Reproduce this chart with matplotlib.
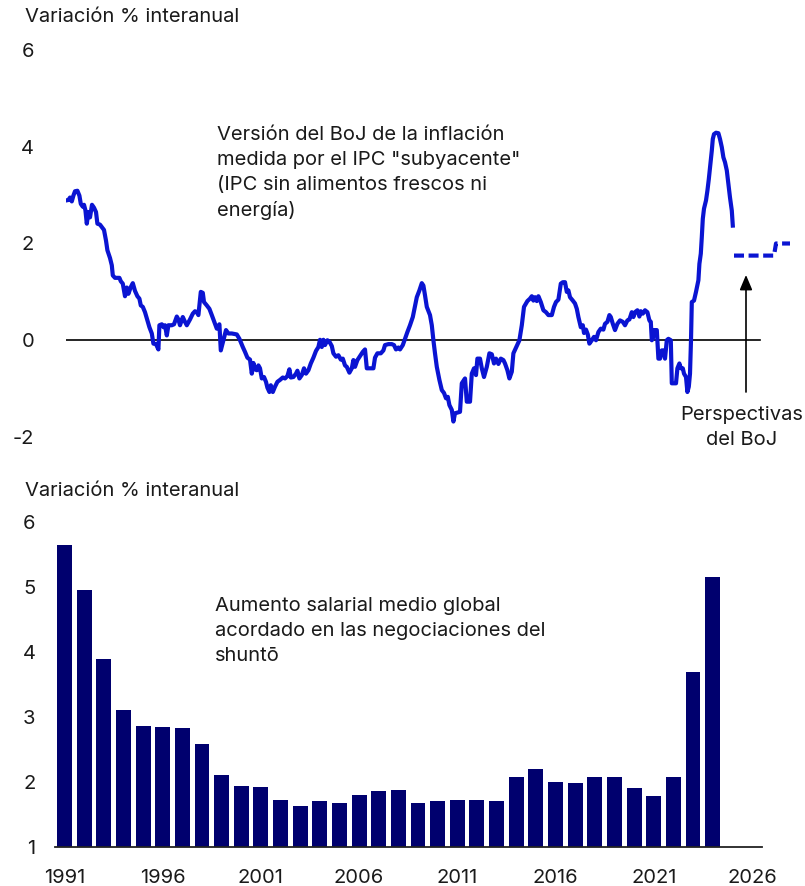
import matplotlib
matplotlib.use("Agg")
import matplotlib.pyplot as plt

plt.rcParams['font.family'] = ['Inter', 'DejaVu Sans']

# ---------------- data ----------------
# BoJ core CPI (ex fresh food & energy), % y/y
cpi_t = [1991.00, 1991.12, 1991.20, 1991.29, 1991.37, 1991.45, 1991.57, 1991.67, 1991.74, 1991.84,
         1991.90, 1991.97, 1992.04, 1992.12, 1992.20, 1992.30, 1992.40, 1992.50, 1992.57, 1992.70,
         1992.79, 1992.90, 1993.00, 1993.07, 1993.20, 1993.29, 1993.34, 1993.45, 1993.67, 1993.74,
         1993.84, 1993.95, 1994.04, 1994.12, 1994.24, 1994.34, 1994.45, 1994.57, 1994.67, 1994.74,
         1994.84, 1994.95, 1995.04, 1995.17, 1995.29, 1995.37, 1995.50, 1995.62, 1995.67, 1995.79,
         1995.87, 1995.95, 1996.04, 1996.12, 1996.29, 1996.40, 1996.54, 1996.62, 1996.70, 1996.84,
         1996.95, 1997.04, 1997.20, 1997.34, 1997.45, 1997.54, 1997.62, 1997.74, 1997.84, 1997.90,
         1998.04, 1998.17, 1998.29, 1998.45, 1998.54, 1998.67, 1998.74, 1998.87, 1999.00, 1999.12,
         1999.29, 1999.54, 1999.67, 1999.84, 1999.95, 2000.07, 2000.20, 2000.29, 2000.37, 2000.45,
         2000.54, 2000.62, 2000.70, 2000.79, 2000.90, 2001.00, 2001.07, 2001.17, 2001.24, 2001.34,
         2001.45, 2001.57, 2001.70, 2001.84, 2001.95, 2002.07, 2002.17, 2002.24, 2002.37, 2002.50,
         2002.57, 2002.67, 2002.79, 2002.90, 2003.00, 2003.12, 2003.24, 2003.37, 2003.50, 2003.62,
         2003.70, 2003.79, 2003.87, 2003.95, 2004.07, 2004.17, 2004.29, 2004.37, 2004.50, 2004.62,
         2004.74, 2004.84, 2004.95, 2005.04, 2005.17, 2005.29, 2005.37, 2005.45, 2005.57, 2005.70,
         2005.84, 2005.95, 2006.04, 2006.37, 2006.45, 2006.57, 2006.74, 2006.87, 2006.95, 2007.12,
         2007.29, 2007.40, 2007.50, 2007.62, 2007.70, 2007.84, 2007.95, 2008.07, 2008.20, 2008.34,
         2008.45, 2008.54, 2008.67, 2008.79, 2008.87, 2008.95, 2009.04, 2009.20, 2009.29, 2009.37,
         2009.45, 2009.54, 2009.67, 2009.79, 2009.90, 2010.00, 2010.09, 2010.17, 2010.29, 2010.37,
         2010.45, 2010.70, 2010.79, 2010.95, 2011.04, 2011.20, 2011.29, 2011.40, 2011.50, 2011.57,
         2011.70, 2011.79, 2011.90, 2012.04, 2012.17, 2012.29, 2012.40, 2012.50, 2012.62, 2012.74,
         2012.87, 2012.95, 2013.07, 2013.17, 2013.29, 2013.37, 2013.54, 2013.67, 2013.79, 2013.90,
         2014.07, 2014.20, 2014.29, 2014.37, 2014.45, 2014.54, 2014.62, 2014.74, 2014.87, 2015.00,
         2015.12, 2015.29, 2015.40, 2015.50, 2015.62, 2015.74, 2015.84, 2015.95, 2016.04, 2016.12,
         2016.20, 2016.34, 2016.45, 2016.54, 2016.62, 2016.74, 2016.84, 2016.90, 2017.00, 2017.09,
         2017.17, 2017.29, 2017.40, 2017.50, 2017.62, 2017.74, 2017.87, 2017.95, 2018.07, 2018.17,
         2018.24, 2018.34, 2018.45, 2018.57, 2018.70, 2018.84, 2018.95, 2019.07, 2019.17, 2019.29,
         2019.37, 2019.45, 2019.57, 2019.67, 2019.74, 2019.84, 2019.95, 2020.07, 2020.17, 2020.24,
         2020.29, 2020.34, 2020.40, 2020.54, 2020.62, 2020.70, 2020.79, 2020.87, 2020.95, 2021.04,
         2021.12, 2021.24, 2021.29, 2021.50, 2021.57, 2021.67, 2021.74, 2021.84, 2021.90, 2022.00,
         2022.07, 2022.14, 2022.20, 2022.25, 2022.29, 2022.40, 2022.50, 2022.62, 2022.67, 2022.74,
         2022.79, 2022.84, 2022.90, 2023.00, 2023.07, 2023.14, 2023.20, 2023.29, 2023.34, 2023.40,
         2023.50, 2023.62, 2023.70, 2023.79, 2023.87, 2023.95, 2024.04, 2024.12, 2024.20, 2024.29,
         2024.34]
cpi_v = [2.89, 2.90, 2.95, 2.87, 2.99, 3.08, 3.09, 2.99, 2.82, 2.76,
         2.80, 2.69, 2.41, 2.65, 2.54, 2.80, 2.74, 2.65, 2.41, 2.39,
         2.34, 2.28, 2.06, 1.86, 1.70, 1.55, 1.34, 1.29, 1.29, 1.22,
         1.17, 0.91, 1.09, 0.96, 1.10, 1.18, 1.02, 0.91, 0.86, 0.72,
         0.69, 0.58, 0.45, 0.27, 0.14, -0.07, -0.08, -0.19, 0.31, 0.33,
         0.27, 0.31, 0.10, 0.31, 0.31, 0.33, 0.49, 0.43, 0.31, 0.48,
         0.38, 0.31, 0.43, 0.55, 0.60, 0.58, 0.52, 1.00, 0.98, 0.79,
         0.72, 0.65, 0.52, 0.34, 0.24, 0.33, -0.21, 0.00, 0.21, 0.14,
         0.14, 0.12, 0.03, -0.14, -0.24, -0.36, -0.40, -0.69, -0.47, -0.60,
         -0.62, -0.52, -0.58, -0.79, -0.76, -0.86, -0.98, -1.07, -0.93, -1.07,
         -0.96, -0.86, -0.82, -0.77, -0.79, -0.74, -0.60, -0.77, -0.76, -0.69,
         -0.63, -0.79, -0.72, -0.58, -0.69, -0.62, -0.48, -0.36, -0.22, -0.14,
         0.01, -0.14, 0.01, -0.10, 0.00, -0.03, -0.12, -0.27, -0.34, -0.31,
         -0.40, -0.38, -0.52, -0.55, -0.67, -0.58, -0.41, -0.55, -0.41, -0.33,
         -0.24, -0.19, -0.58, -0.58, -0.36, -0.27, -0.27, -0.21, -0.10, -0.08,
         -0.08, -0.10, -0.19, -0.15, -0.19, -0.10, 0.03, 0.17, 0.31, 0.48,
         0.70, 0.89, 1.03, 1.18, 1.13, 0.93, 0.69, 0.52, 0.31, 0.00,
         -0.27, -0.55, -0.82, -1.03, -1.09, -1.20, -1.17, -1.34, -1.44, -1.68,
         -1.51, -1.48, -0.89, -0.79, -1.27, -1.27, -0.69, -0.58, -0.72, -0.38,
         -0.38, -0.58, -0.76, -0.55, -0.27, -0.29, -0.48, -0.38, -0.49, -0.38,
         -0.41, -0.48, -0.62, -0.79, -0.65, -0.27, -0.12, 0.00, 0.31, 0.69,
         0.81, 0.86, 0.91, 0.82, 0.89, 0.81, 0.91, 0.79, 0.62, 0.58,
         0.52, 0.52, 0.69, 0.79, 0.84, 1.17, 1.20, 1.20, 1.00, 1.03,
         0.89, 0.82, 0.76, 0.65, 0.48, 0.27, 0.31, 0.15, 0.22, 0.12,
         -0.07, 0.00, 0.07, 0.00, 0.17, 0.24, 0.22, 0.34, 0.38, 0.52,
         0.48, 0.34, 0.21, 0.34, 0.41, 0.38, 0.31, 0.41, 0.43, 0.58,
         0.48, 0.58, 0.62, 0.49, 0.60, 0.55, 0.62, 0.58, 0.41, 0.38,
         0.00, 0.03, 0.21, 0.21, -0.38, -0.38, -0.21, -0.21, -0.38, 0.00,
         0.03, 0.00, -0.89, -0.89, -0.58, -0.48, -0.58, -0.58, -0.69, -0.76,
         -1.07, -0.96, -0.69, 0.00, 0.79, 0.82, 1.00, 1.24, 1.58, 1.79,
         2.13, 2.51, 2.72, 2.89, 3.09, 3.33, 3.57, 3.92, 4.16, 4.26,
         4.29, 4.28, 4.16, 3.99, 3.78, 3.68, 3.51, 3.23, 2.95, 2.68,
         2.37]

# BoJ outlook (dashed)
outlook_t = [2024.40, 2026.40, 2026.50, 2027.20]
outlook_v = [1.75, 1.75, 2.00, 2.00]

# Shunto average wage increase, % y/y
wage_years = list(range(1991, 2025))
wage_vals = [5.64, 4.95, 3.89, 3.10, 2.86, 2.84, 2.83, 2.58, 2.10, 1.93,
             1.92, 1.72, 1.63, 1.70, 1.67, 1.79, 1.86, 1.87, 1.67, 1.70,
             1.72, 1.72, 1.70, 2.07, 2.19, 1.99, 1.98, 2.07, 2.07, 1.90,
             1.78, 2.07, 3.69, 5.15]

top_yticks = [-2, 0, 2, 4, 6]
bot_yticks = [1, 2, 3, 4, 5, 6]
bot_xticks = [1991, 1996, 2001, 2006, 2011, 2016, 2021, 2026]

# ---------------- styling ----------------
W, H = 805, 886
LINE_C = '#0a14d2'
BAR_C = '#00006e'
TXT_C = '#1a1a1a'
FS = 14.5
LS = 1.5

fig = plt.figure(figsize=(W / 100, H / 100), dpi=100)

def frac(x0, x1, ytop, ybot):
    return [x0 / W, 1 - ybot / H, (x1 - x0) / W, (ybot - ytop) / H]

# ---- top panel ----
ax1 = fig.add_axes(frac(66, 790, 50, 437))
ax1.set_xlim(1991.0, 1991.0 + 724 / 20)
ax1.set_ylim(-2, 6)
ax1.plot([1991.0, 1991.0 + 694 / 20], [0, 0], color='black', lw=1.2, zorder=1)
ax1.plot(cpi_t, cpi_v, color=LINE_C, lw=3, solid_joinstyle='round', zorder=3)
ax1.plot(outlook_t, outlook_v, color=LINE_C, lw=3, linestyle=(0, (2.4, 1.1)), zorder=3)
ax1.annotate('', xy=(2025.0, 1.35), xytext=(2025.0, -1.07),
             arrowprops=dict(arrowstyle='-|>,head_width=0.38,head_length=0.9',
                             color='black', lw=1.2, shrinkA=0, shrinkB=0))
ax1.set_yticks(top_yticks)
ax1.set_yticklabels([str(v) for v in top_yticks])
ax1.set_xticks([])
ax1.tick_params(axis='y', length=0, pad=23, labelsize=FS, labelcolor=TXT_C)
for s in ax1.spines.values():
    s.set_visible(False)

fig.text(25 / W, 1 - 17 / H, 'Variación % interanual', fontsize=FS, color=TXT_C, va='center', ha='left')
fig.text(217 / W, 1 - 126 / H,
         'Versión del BoJ de la inflación\nmedida por el IPC "subyacente"\n(IPC sin alimentos frescos ni\nenergía)',
         fontsize=FS, color=TXT_C, va='top', ha='left', linespacing=LS)
fig.text(742 / W, 1 - 427 / H, 'Perspectivas\ndel BoJ', fontsize=FS, color=TXT_C,
         va='center', ha='center', linespacing=LS)

# ---- bottom panel ----
ax2 = fig.add_axes(frac(55, 762, 521.7, 846.7))
ax2.bar(wage_years, wage_vals, width=0.76, bottom=0, color=BAR_C, zorder=2)
ax2.set_xlim(1991 - 9.5 / 19.64, 1991 + 697.5 / 19.64)
ax2.set_ylim(1, 6)
ax2.set_yticks(bot_yticks)
ax2.set_yticklabels([str(v) for v in bot_yticks])
ax2.set_xticks(bot_xticks)
ax2.set_xticklabels([str(v) for v in bot_xticks])
ax2.tick_params(axis='y', length=0, pad=14, labelsize=FS, labelcolor=TXT_C)
ax2.tick_params(axis='x', length=0, pad=16, labelsize=FS, labelcolor=TXT_C)
for k, s in ax2.spines.items():
    s.set_visible(k == 'bottom')
ax2.spines['bottom'].set_color('#222222')
ax2.spines['bottom'].set_linewidth(1.3)
ax2.spines['bottom'].set_zorder(3)

fig.text(25 / W, 1 - 491 / H, 'Variación % interanual', fontsize=FS, color=TXT_C, va='center', ha='left')
fig.text(215 / W, 1 - 597 / H,
         'Aumento salarial medio global\nacordado en las negociaciones del\nshuntō',
         fontsize=FS, color=TXT_C, va='top', ha='left', linespacing=LS)

fig.savefig('out.png', dpi=100)
